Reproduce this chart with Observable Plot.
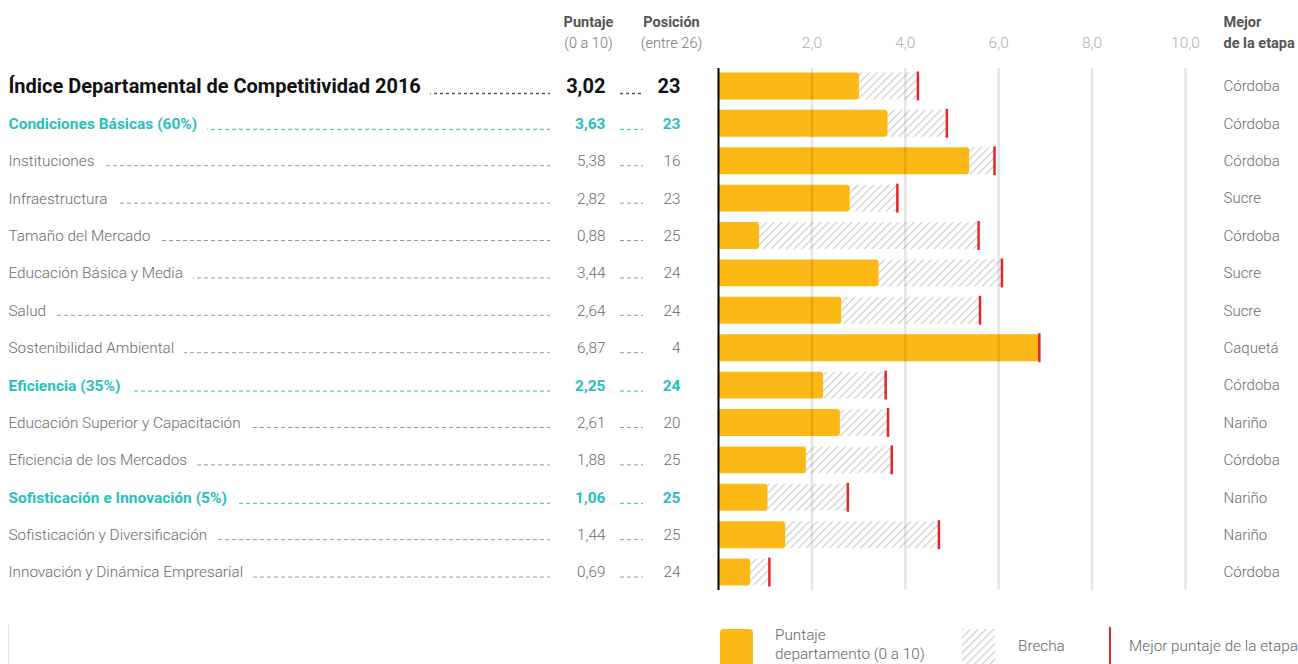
<!DOCTYPE html>
<html>
<head>
<meta charset="utf-8">
<script src="https://cdn.jsdelivr.net/npm/d3@7"></script>
<script src="https://cdn.jsdelivr.net/npm/@observablehq/plot@0.6"></script>
<style>
  html, body { margin: 0; padding: 0; background: #fff; }
  #wrap { position: relative; width: 1298px; height: 664px; overflow: hidden; font-family: Roboto, "Noto Sans", sans-serif; }
  #chart { position: absolute; left: 0; top: 0; }
  .lg { position: absolute; color: #666; font-size: 15.3px; font-weight: 300; line-height: 19px; white-space: nowrap; }
</style>
</head>
<body>
<div id="wrap">
  <div id="chart"></div>
  <div style="position:absolute;left:8px;top:625px;width:1px;height:40px;background:#e4e4e4"></div>
  <div style="position:absolute;left:720px;top:629px;width:33px;height:40px;background:#FCB814;border-radius:4px"></div>
  <div class="lg" style="left:775px;top:626px">Puntaje<br>departamento (0 a 10)</div>
  <svg style="position:absolute;left:962px;top:629px" width="33" height="36">
    <defs><pattern id="hatchL" patternUnits="userSpaceOnUse" width="5.5" height="5.5" patternTransform="rotate(45)"><rect width="5.5" height="5.5" fill="#fff"/><line x1="0" y1="0" x2="0" y2="5.5" stroke="#cacaca" stroke-width="2.2"/></pattern></defs>
    <rect width="33" height="36" fill="url(#hatchL)"/>
  </svg>
  <div class="lg" style="left:1018px;top:637px">Brecha</div>
  <div style="position:absolute;left:1109px;top:627px;width:2px;height:40px;background:#E3262B"></div>
  <div class="lg" style="left:1129px;top:637px">Mejor puntaje de la etapa</div>
</div>
<script>
const names = [
  "Índice Departamental de Competitividad 2016",
  "Condiciones Básicas (60%)",
  "Instituciones",
  "Infraestructura",
  "Tamaño del Mercado",
  "Educación Básica y Media",
  "Salud",
  "Sostenibilidad Ambiental",
  "Eficiencia (35%)",
  "Educación Superior y Capacitación",
  "Eficiencia de los Mercados",
  "Sofisticación e Innovación (5%)",
  "Sofisticación y Diversificación",
  "Innovación y Dinámica Empresarial"
];
const levels = [0, 1, 2, 2, 2, 2, 2, 2, 1, 2, 2, 1, 2, 2];
const scores = [3.02, 3.63, 5.38, 2.82, 0.88, 3.44, 2.64, 6.87, 2.25, 2.61, 1.88, 1.06, 1.44, 0.69];
const positions = [23, 23, 16, 23, 25, 24, 24, 4, 24, 20, 25, 25, 25, 24];
const bestScores = [4.27, 4.89, 5.91, 3.83, 5.57, 6.07, 5.60, 6.87, 3.58, 3.63, 3.71, 2.77, 4.72, 1.09];
const bestDept = ["Córdoba", "Córdoba", "Córdoba", "Sucre", "Córdoba", "Sucre", "Sucre", "Caquetá", "Córdoba", "Nariño", "Córdoba", "Nariño", "Nariño", "Córdoba"];
const xTicks = [2, 4, 6, 8, 10];

const rows = names.map((name, i) => ({
  name, level: levels[i], score: scores[i], pos: positions[i], best: bestScores[i], dept: bestDept[i]
}));
const fmt = v => v.toFixed(2).replace(".", ",");
const tickFmt = v => v.toFixed(1).replace(".", ",");

const GOLD = "#FCB814", RED = "#E3262B", TEAL = "#2ABFBD", GREY = "#6b6b6b";
const lvl = k => rows.filter(r => r.level === k);
const styleFor = [
  {fill: "#111", fontSize: 20, fontWeight: 700},
  {fill: TEAL, fontSize: 15.5, fontWeight: 700},
  {fill: GREY, fontSize: 15.3, fontWeight: 300}
];
const leaderFor = [
  {stroke: "#555", strokeWidth: 1.5, strokeDasharray: "3,3", dy: 7},
  {stroke: TEAL, strokeWidth: 1, strokeDasharray: "4,3", dy: 5.5},
  {stroke: "#999", strokeWidth: 1, strokeDasharray: "4,3", dy: 4.5}
];

const marks = [];
// bars
marks.push(Plot.barX(rows, {y: "name", x1: "score", x2: "best", fill: "url(#hatch)"}));
marks.push(Plot.barX(rows, {y: "name", x1: 0, x2: "score", fill: GOLD, rx: 3}));
// grid lines (on top, translucent)
marks.push(Plot.ruleX(xTicks, {x: d => d, stroke: "#000", strokeOpacity: 0.1, strokeWidth: 2.5, insetTop: 6, insetBottom: 6}));
// best markers
marks.push(Plot.tickX(rows, {x: "best", y: "name", stroke: RED, strokeWidth: 2.5, insetTop: -1, insetBottom: -1}));
// zero axis
marks.push(Plot.ruleX([0], {stroke: "#000", strokeWidth: 2, insetTop: 6, insetBottom: 6}));
// tick labels
marks.push(Plot.text(xTicks, {x: d => d, text: tickFmt, frameAnchor: "top", lineAnchor: "middle", dy: 43 - 62, fill: "#b0b0b0", fontSize: 15.5, fontWeight: 300}));

for (let k = 0; k < 3; k++) {
  const data = lvl(k), st = styleFor[k], ld = leaderFor[k];
  // long leader from label to values
  marks.push(Plot.ruleY(data, {y: "name", ...ld, insetLeft: -710, insetRight: 635}));
  // short leader between score and position
  marks.push(Plot.ruleY(data, {y: "name", ...ld, insetLeft: -98, insetRight: 542}));
  // labels with white halo hiding the leader behind them
  marks.push(Plot.text(data, {y: "name", text: "name", frameAnchor: "left", dx: -710, textAnchor: "start",
    ...st, stroke: "white", strokeWidth: 22}));
  marks.push(Plot.text(data, {y: "name", text: d => fmt(d.score), frameAnchor: "left", dx: -113, textAnchor: "end", ...st}));
  marks.push(Plot.text(data, {y: "name", text: d => String(d.pos), frameAnchor: "left", dx: -38, textAnchor: "end", ...st}));
}
// best department
marks.push(Plot.text(rows, {y: "name", text: "dept", frameAnchor: "right", dx: 38, textAnchor: "start", fill: GREY, fontSize: 15, fontWeight: 300}));

// headers
const hdr = (txt, dx, dy, anchor, bold) => Plot.text([txt], {text: d => d, frameAnchor: "top-left", lineAnchor: "middle", dx, dy, textAnchor: anchor,
  fill: bold ? "#555" : "#777", fontSize: 14.5, fontWeight: bold ? 700 : 300});
marks.push(hdr("Puntaje", 588 - 718, 22 - 62, "middle", true));
marks.push(hdr("(0 a 10)", 588 - 718, 43 - 62, "middle", false));
marks.push(hdr("Posición", 671 - 718, 22 - 62, "middle", true));
marks.push(hdr("(entre 26)", 671 - 718, 43 - 62, "middle", false));
marks.push(hdr("Mejor", 1223 - 718, 22 - 62, "start", true));
marks.push(hdr("de la etapa", 1223 - 718, 43 - 62, "start", true));

const chart = Plot.plot({
  width: 1298,
  height: 610,
  marginLeft: 718,
  marginRight: 113,
  marginTop: 62,
  marginBottom: 14,
  x: {domain: [0, 10], axis: null},
  y: {domain: names, padding: 0.28, round: false, axis: null},
  style: {fontFamily: "Roboto, 'Noto Sans', sans-serif", background: "white", overflow: "visible"},
  marks
});

const svg = d3.select(chart);
const defs = svg.insert("defs", ":first-child");
const pat = defs.append("pattern").attr("id", "hatch").attr("patternUnits", "userSpaceOnUse")
  .attr("width", 5.5).attr("height", 5.5).attr("patternTransform", "rotate(45)");
pat.append("rect").attr("width", 5.5).attr("height", 5.5).attr("fill", "#fff");
pat.append("line").attr("x1", 0).attr("y1", 0).attr("x2", 0).attr("y2", 5.5).attr("stroke", "#cacaca").attr("stroke-width", 2.2);

document.getElementById("chart").appendChild(chart);
</script>
</body>
</html>
